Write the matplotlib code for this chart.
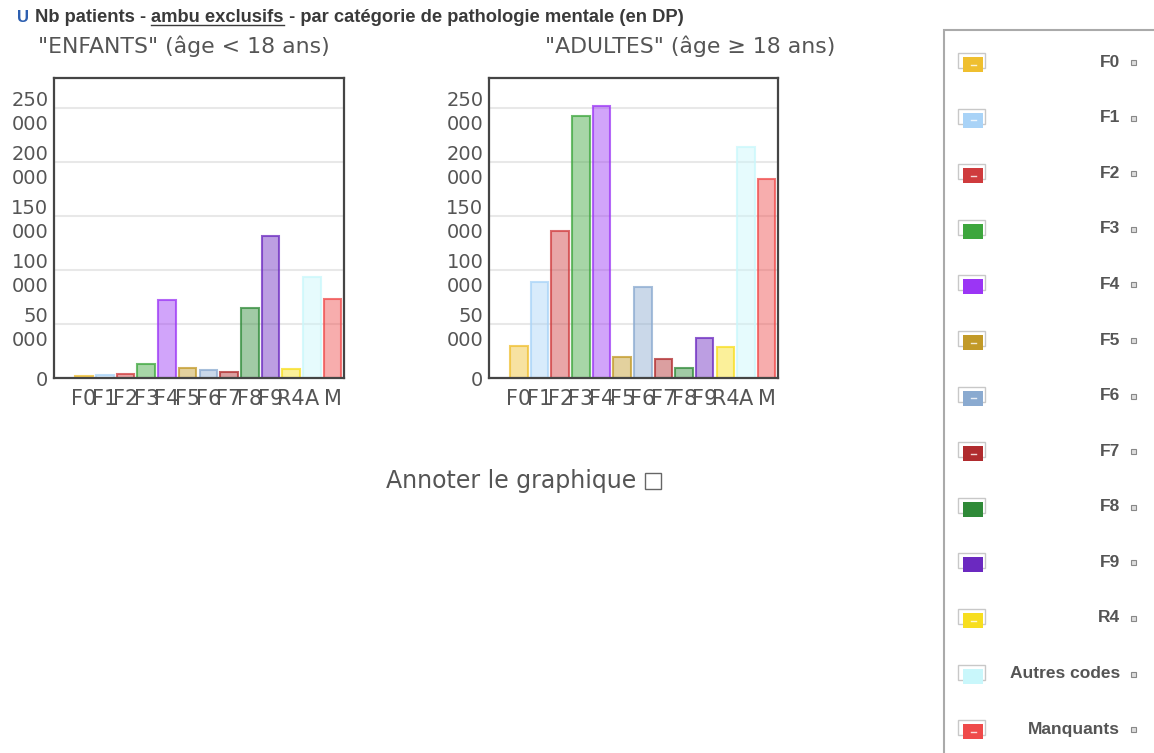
import matplotlib.pyplot as plt
from matplotlib.colors import to_rgba
from matplotlib.patches import Rectangle

# page size in pixels (dpi=100)
W, H = 1154, 753

categories = ['F0', 'F1', 'F2', 'F3', 'F4', 'F5', 'F6', 'F7', 'F8', 'F9', 'R4', 'A', 'M']
legend_labels = ['F0', 'F1', 'F2', 'F3', 'F4', 'F5', 'F6', 'F7', 'F8', 'F9', 'R4',
                 'Autres codes', 'Manquants']
colors = ['#efbf2f', '#a9d3f7', '#cf3b3d', '#3da63d', '#9b35f5', '#c29a28', '#8aaad0',
          '#b02b2e', '#2f8a38', '#6b29c0', '#f7de1f', '#c9f7fb', '#ef4a4a']
# swatches drawn with a small white dash in the middle
dashed = ['F0', 'F1', 'F2', 'F5', 'F6', 'F7', 'R4', 'Manquants']

enfants = [1500, 2800, 3500, 13000, 72000, 9000, 7100, 5200, 64800, 131800, 8600, 93800, 72900]
adultes = [29600, 89200, 136400, 242900, 252100, 19400, 83900, 17900, 9500, 36700, 28700,
           213500, 184300]

y_ticks = [0, 50000, 100000, 150000, 200000, 250000]
y_tick_labels = ['0', '50\n000', '100\n000', '150\n000', '200\n000', '250\n000']

TXT = '#555555'


def px_rect(x0, y0, x1, y1):
    return [x0 / W, 1 - y1 / H, (x1 - x0) / W, (y1 - y0) / H]


def draw_panel(ax, values):
    x = list(range(len(values)))
    ax.bar(x, values, width=0.85,
           color=[to_rgba(c, 0.45) for c in colors],
           edgecolor=[to_rgba(c, 0.75) for c in colors], linewidth=1.5, zorder=2)
    ax.set_xlim(-1.45, 12.55)
    ax.set_ylim(0, 277800)
    ax.set_yticks(y_ticks, y_tick_labels)
    ax.set_xticks(x, categories)
    ax.yaxis.grid(True, color='#e8e8e8', linewidth=1.5)
    ax.set_axisbelow(True)
    ax.tick_params(axis='y', length=0, labelsize=14, labelcolor=TXT, pad=4)
    ax.tick_params(axis='x', length=0, labelsize=15, labelcolor=TXT, pad=8)
    for lab in ax.get_yticklabels():
        lab.set_linespacing(1.35)
    for s in ax.spines.values():
        s.set_color('#454545')
        s.set_linewidth(1.6)


fig = plt.figure(figsize=(W / 100, H / 100), dpi=100)
plt.rcParams['font.family'] = 'DejaVu Sans'

ax1 = fig.add_axes(px_rect(54, 78, 344, 378))
ax2 = fig.add_axes(px_rect(489, 78, 778, 378))
draw_panel(ax1, enfants)
draw_panel(ax2, adultes)

# overlay in pixel coordinates for the page elements
lay = fig.add_axes([0, 0, 1, 1], zorder=-1)
lay.set_xlim(0, W)
lay.set_ylim(H, 0)
lay.axis('off')
renderer = fig.canvas.get_renderer()
inv = lay.transData.inverted()

# header line with underlined middle part
lay.text(17, 22, 'U', fontsize=12, fontweight='bold', color='#2d5fb0',
         family='Liberation Sans', va='baseline')
parts = ['Nb patients - ', 'ambu exclusifs', ' - par catégorie de pathologie mentale (en DP)']
x = 35
for i, p in enumerate(parts):
    t = lay.text(x, 22, p, fontsize=13.2, fontweight='bold', color='#3a3a3a',
                 family='Liberation Sans', va='baseline')
    bb = t.get_window_extent(renderer)
    (xa, _), (xb, _) = inv.transform([(bb.x0, bb.y0), (bb.x1, bb.y0)])
    if i == 1:
        lay.plot([xa, xb], [25, 25], color='#3a3a3a', lw=1)
    x = xb

lay.text(38, 46, '"ENFANTS" (âge < 18 ans)', fontsize=15.8, color=TXT, va='center')
lay.text(545, 46, '"ADULTES" (âge ≥ 18 ans)', fontsize=15.8, color=TXT, va='center')

# annotation toggle
t = lay.text(386, 481, 'Annoter le graphique', fontsize=17, color=TXT, va='center')
bb = t.get_window_extent(renderer)
xe = inv.transform((bb.x1, bb.y0))[0]
lay.add_patch(Rectangle((xe + 9, 473), 16, 16, facecolor='white', edgecolor='#666666', lw=1))

# legend panel
lay.add_patch(Rectangle((944, 30), 230, 760, facecolor='white', edgecolor='#aaaaaa', lw=1.5))
for i, (lab, col) in enumerate(zip(legend_labels, colors)):
    yc = 62 + i * 55.6
    lay.add_patch(Rectangle((958, yc - 9), 27, 15, facecolor='none', edgecolor='#c8c8c8', lw=1))
    lay.add_patch(Rectangle((963, yc - 5), 20, 15, facecolor=col, edgecolor='none'))
    if lab in dashed:
        lay.plot([970.5, 975.5], [yc + 2.5, yc + 2.5], color='white', lw=1, alpha=0.8)
    lay.text(1120, yc, lab, fontsize=12.5, fontweight='bold', color=TXT,
             family='Liberation Sans', ha='right', va='center')
    lay.add_patch(Rectangle((1131, yc - 2), 5, 5, facecolor='#dddddd', edgecolor='#888888', lw=0.8))

fig.savefig('out.png', dpi=100, facecolor='white')
